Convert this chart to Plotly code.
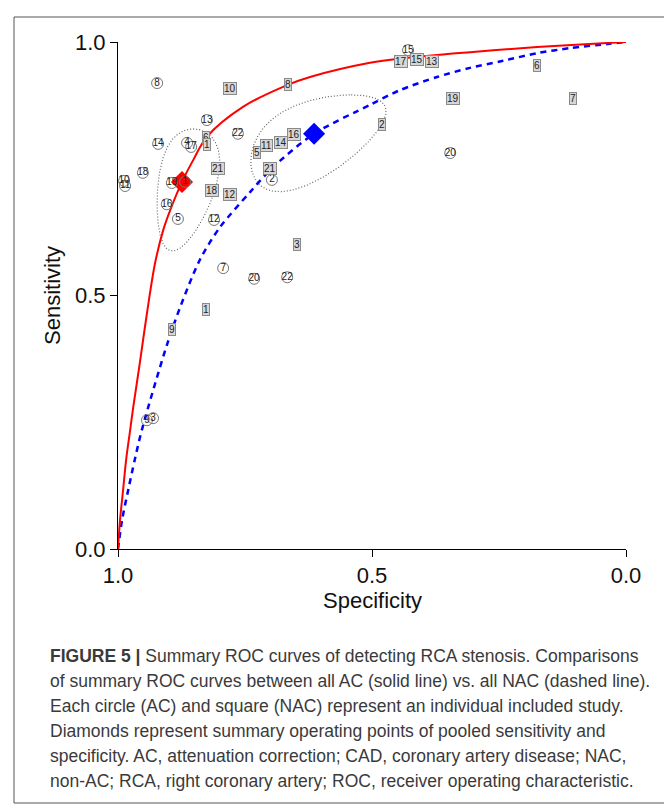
import numpy as np
import plotly.graph_objects as go

# ---------------- data ----------------
# Summary ROC curves (specificity, sensitivity)
ac_curve_spec = [1.000, 0.996, 0.990, 0.984, 0.976, 0.970, 0.957, 0.943, 0.927, 0.911, 0.897, 0.874,
                 0.852, 0.825, 0.754, 0.667, 0.622, 0.504, 0.439, 0.307, 0.175, 0.037, 0.000]
ac_curve_sens = [0.000, 0.057, 0.116, 0.176, 0.235, 0.280, 0.367, 0.465, 0.564, 0.629, 0.669, 0.724,
                 0.767, 0.813, 0.872, 0.915, 0.931, 0.959, 0.968, 0.980, 0.990, 0.998, 1.000]
nac_curve_spec = [1.000, 0.992, 0.980, 0.967, 0.953, 0.894, 0.839, 0.799, 0.740, 0.695, 0.614, 0.504,
                  0.445, 0.372, 0.307, 0.242, 0.175, 0.110, 0.037, 0.000]
nac_curve_sens = [0.000, 0.057, 0.116, 0.176, 0.235, 0.432, 0.570, 0.635, 0.704, 0.753, 0.819, 0.876,
                  0.905, 0.931, 0.949, 0.963, 0.978, 0.988, 0.996, 1.000]

# Summary operating points
ac_summary = (0.874, 0.724)
nac_summary = (0.614, 0.819)

# Confidence regions: ellipses in logit space (center logit FPR, logit sens; conjugate half-axes)
ac_region = dict(center=(-1.935, 0.965), a=(0.185, 0.61), b=(0.518, 0.0))
nac_region = dict(center=(-0.464, 1.51), a=(0.30, 0.64), b=(0.49, 0.0))

# Individual studies, AC (circles)
ac_labels = ["8", "14", "4", "17", "13", "22", "18", "10", "11", "19", "1", "16", "5", "12", "2",
             "15", "7", "20", "22", "9", "3", "20"]
ac_spec = [0.923, 0.921, 0.864, 0.856, 0.825, 0.764, 0.951, 0.988, 0.986, 0.894, 0.868, 0.904, 0.882,
           0.811, 0.697, 0.429, 0.793, 0.732, 0.667, 0.943, 0.931, 0.346]
ac_sens = [0.919, 0.799, 0.801, 0.793, 0.846, 0.819, 0.742, 0.726, 0.716, 0.722, 0.724, 0.680, 0.651,
           0.649, 0.728, 0.984, 0.554, 0.533, 0.536, 0.254, 0.258, 0.781]

# Individual studies, NAC (squares)
nac_labels = ["10", "8", "6", "1", "21", "18", "12", "5", "11", "14", "16", "21", "2", "17", "15",
              "13", "6", "19", "7", "3", "1", "9"]
nac_spec = [0.780, 0.665, 0.827, 0.825, 0.803, 0.815, 0.780, 0.726, 0.707, 0.679, 0.654, 0.701, 0.480,
            0.443, 0.411, 0.382, 0.175, 0.341, 0.104, 0.648, 0.827, 0.894]
nac_sens = [0.909, 0.917, 0.811, 0.797, 0.750, 0.708, 0.700, 0.783, 0.795, 0.801, 0.817, 0.750, 0.838,
            0.961, 0.966, 0.961, 0.953, 0.888, 0.888, 0.600, 0.473, 0.432]

tick_vals = [0.0, 0.5, 1.0]
tick_text = ["0.0", "0.5", "1.0"]

caption_lines = [
    "<b>FIGURE 5 |</b> Summary ROC curves of detecting RCA stenosis. Comparisons",
    "of summary ROC curves between all AC (solid line) vs. all NAC (dashed line).",
    "Each circle (AC) and square (NAC) represent an individual included study.",
    "Diamonds represent summary operating points of pooled sensitivity and",
    "specificity. AC, attenuation correction; CAD, coronary artery disease; NAC,",
    "non-AC; RCA, right coronary artery; ROC, receiver operating characteristic.",
]

# ---------------- layout geometry (pixels, in page coordinates) ----------------
OFF = 8                      # default page body margin
W, H = 672 - OFF, 812 - OFF  # figure size
L, R, T, B = 118, 626, 42, 549   # plot area edges in page pixels


def px(xp):
    return (xp - L) / (R - L)


def py(yp):
    return (B - yp) / (B - T)


def region_path(reg, n=240):
    t = np.linspace(0, 2 * np.pi, n)
    cx, cy = reg["center"]
    ax_, ay_ = reg["a"]
    bx_, by_ = reg["b"]
    lf = cx + ax_ * np.cos(t) + bx_ * np.sin(t)
    ls = cy + ay_ * np.cos(t) + by_ * np.sin(t)
    fpr = 1 / (1 + np.exp(-lf))
    sens = 1 / (1 + np.exp(-ls))
    return 1 - fpr, sens


fig = go.Figure()

for reg in (ac_region, nac_region):
    sx, sy = region_path(reg)
    fig.add_trace(go.Scatter(x=sx, y=sy, mode="lines",
                             line=dict(color="#666666", width=1.2, dash="1px,2px"),
                             hoverinfo="skip", showlegend=False))

fig.add_trace(go.Scatter(x=nac_curve_spec, y=nac_curve_sens, mode="lines",
                         line=dict(color="#0000ff", width=2.5, dash="6px,5px", shape="spline", smoothing=0.8),
                         showlegend=False))
fig.add_trace(go.Scatter(x=ac_curve_spec, y=ac_curve_sens, mode="lines",
                         line=dict(color="#ff0000", width=2, shape="spline", smoothing=1.0),
                         showlegend=False))

fig.add_trace(go.Scatter(x=[ac_summary[0]], y=[ac_summary[1]], mode="markers",
                         marker=dict(symbol="diamond", size=17, color="#ff0000"),
                         showlegend=False, cliponaxis=False))
fig.add_trace(go.Scatter(x=[nac_summary[0]], y=[nac_summary[1]], mode="markers",
                         marker=dict(symbol="diamond", size=17, color="#0000ff"),
                         showlegend=False, cliponaxis=False))

fig.add_trace(go.Scatter(x=ac_spec, y=ac_sens, mode="markers+text", text=ac_labels,
                         textposition="middle center",
                         textfont=dict(family="Liberation Sans", size=10, color="#222222"),
                         marker=dict(symbol="circle-open", size=11, color="#777777", line=dict(width=1)),
                         showlegend=False, cliponaxis=False))

annotations = []
for lab, sx, sy in zip(nac_labels, nac_spec, nac_sens):
    annotations.append(dict(x=sx, y=sy, xref="x", yref="y", text=lab, showarrow=False,
                            font=dict(family="Liberation Sans", size=10, color="#222222"),
                            bgcolor="#d6d6d6", bordercolor="#8a8a8a", borderwidth=1, borderpad=0))

# axis titles
annotations.append(dict(x=px(372), y=py(600), xref="paper", yref="paper", text="Specificity",
                        showarrow=False, font=dict(family="Liberation Sans", size=22, color="#111111"),
                        xanchor="center", yanchor="middle"))
annotations.append(dict(x=px(52), y=py(296), xref="paper", yref="paper", text="Sensitivity",
                        showarrow=False, textangle=-90,
                        font=dict(family="Liberation Sans", size=22, color="#111111"),
                        xanchor="center", yanchor="middle"))

# caption
for i, line in enumerate(caption_lines):
    annotations.append(dict(x=px(48), y=py(656 + 25 * i), xref="paper", yref="paper", text=line,
                            showarrow=False, xanchor="left", yanchor="middle",
                            font=dict(family="Liberation Sans", size=17.5, color="#3a3a3a")))

shapes = [dict(type="rect", xref="paper", yref="paper",
               x0=px(14), x1=px(668), y0=py(803), y1=py(17),
               line=dict(color="#555555", width=1))]

axis_common = dict(showline=True, linecolor="#000000", linewidth=1, ticks="outside", ticklen=7,
                   tickcolor="#000000", tickwidth=1, showgrid=False, zeroline=False,
                   tickvals=tick_vals, ticktext=tick_text,
                   tickfont=dict(family="Liberation Sans", size=22, color="#111111"))

fig.update_layout(
    width=W, height=H,
    margin=dict(l=L - OFF, r=W - (R - OFF), t=T - OFF, b=H - (B - OFF)),
    paper_bgcolor="white", plot_bgcolor="white",
    xaxis=dict(range=[1, 0], **axis_common),
    yaxis=dict(range=[0, 1], **axis_common),
    annotations=annotations, shapes=shapes,
    showlegend=False,
)

fig.write_html("out.html")
